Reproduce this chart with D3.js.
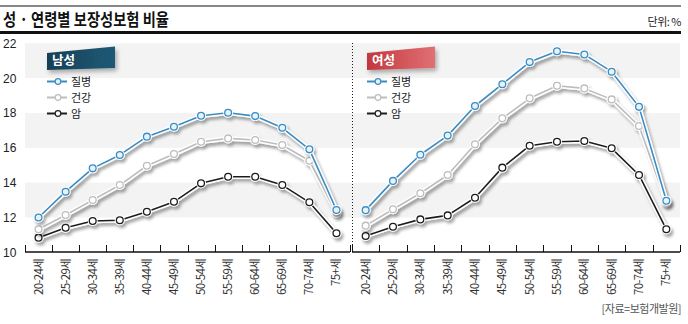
<!DOCTYPE html>
<html><head><meta charset="utf-8">
<script src="https://cdn.jsdelivr.net/npm/d3@7"></script>
<style>
body{margin:0;background:#fff;}
svg{display:block;font-family:"Noto Sans CJK KR","Noto Sans",sans-serif;}
</style></head><body>
<svg id="c" width="688" height="324"></svg>
<script>
const categories = ["20-24세","25-29세","30-34세","35-39세","40-44세","45-49세","50-54세","55-59세","60-64세","65-69세","70-74세","75+세"];
const yTicks = [10,12,14,16,18,20,22];
const seriesNames = ["질병","건강","암"];
const maleDisease = [12.0,13.48,14.82,15.59,16.64,17.21,17.84,18.01,17.82,17.15,15.91,12.43];
const maleHealth  = [11.32,12.14,13.0,13.86,14.97,15.64,16.35,16.54,16.45,16.16,15.26,12.27];
const maleCancer  = [10.84,11.41,11.8,11.84,12.33,12.9,13.96,14.34,14.34,13.86,12.87,11.09];
const femaleDisease = [12.42,14.1,15.6,16.7,18.4,19.65,20.92,21.54,21.36,20.37,18.35,12.96];
const femaleHealth  = [11.53,12.47,13.39,14.44,16.2,17.69,18.84,19.56,19.41,18.78,17.25,12.87];
const femaleCancer  = [10.94,11.47,11.89,12.12,13.13,14.86,16.12,16.35,16.39,15.97,14.44,11.32];

const svg = d3.select("#c");
const defs = svg.append("defs");
const f = defs.append("filter").attr("id","sh").attr("x","-20%").attr("y","-20%").attr("width","140%").attr("height","140%");
f.append("feDropShadow").attr("dx",2).attr("dy",3).attr("stdDeviation",1.6).attr("flood-color","#000").attr("flood-opacity",0.35);
const f2 = defs.append("filter").attr("id","bsh").attr("x","-20%").attr("y","-30%").attr("width","150%").attr("height","170%");
f2.append("feDropShadow").attr("dx",2).attr("dy",3).attr("stdDeviation",2).attr("flood-color","#000").attr("flood-opacity",0.3);
const gBlue = defs.append("linearGradient").attr("id","gb").attr("x1",0).attr("x2",1);
gBlue.append("stop").attr("offset",0).attr("stop-color","#163f56");
gBlue.append("stop").attr("offset",1).attr("stop-color","#1f5a76");
const gRed = defs.append("linearGradient").attr("id","gr").attr("x1",0).attr("x2",1);
gRed.append("stop").attr("offset",0).attr("stop-color","#c2383e");
gRed.append("stop").attr("offset",1).attr("stop-color","#e07073");

// header
svg.append("line").attr("x1",0).attr("x2",681).attr("y1",6).attr("y2",6).attr("stroke","#111").attr("stroke-width",1);
svg.append("text").attr("x",3).attr("y",26).attr("font-size",17.5).attr("font-weight",700).attr("fill","#111")
  .attr("textLength",166).attr("lengthAdjust","spacingAndGlyphs").text("성 · 연령별 보장성보험 비율");
svg.append("text").attr("x",681).attr("y",26).attr("text-anchor","end").attr("font-size",11).attr("fill","#222").attr("letter-spacing",-0.5).text("단위: %");
svg.append("rect").attr("x",0).attr("y",31).attr("width",681).attr("height",3).attr("fill","#111");

const y = d3.scaleLinear().domain([10,22]).range([252.3,43.3]);
const plotL = 25, plotR = 680;

// bands
const bandPairs = [[20,22],[16,18],[12,14]];
svg.append("g").selectAll("rect").data(bandPairs).join("rect")
  .attr("x",plotL).attr("width",plotR-plotL)
  .attr("y",d=>y(d[1])).attr("height",d=>y(d[0])-y(d[1])).attr("fill","#f3f3f3");

// y labels
svg.append("g").selectAll("text").data(yTicks).join("text")
  .attr("x",3).attr("y",d=>y(d)+4.5).attr("font-size",12).attr("fill","#222")
  .attr("font-family","'Liberation Sans',Arial,sans-serif").text(d=>d);

// divider
svg.append("line").attr("x1",352.5).attr("x2",352.5).attr("y1",43).attr("y2",252)
  .attr("stroke","#222").attr("stroke-width",1).attr("stroke-dasharray","1,2");

const colors = {"질병":"#3a8cc2","건강":"#bdbdbd","암":"#1e1e1e"};
const markerFill = {"질병":"#e6f3fb","건강":"#ffffff","암":"#ffffff"};

const panels = [
  {name:"남성", range:[25,350], data:[maleDisease,maleHealth,maleCancer], badge:"url(#gb)"},
  {name:"여성", range:[352,680], data:[femaleDisease,femaleHealth,femaleCancer], badge:"url(#gr)"}
];

panels.forEach(p=>{
  const x = d3.scaleBand().domain(categories).range(p.range).padding(0);
  const g = svg.append("g");
  // axis
  g.append("line").attr("x1",p.range[0]).attr("x2",p.range[1]).attr("y1",252).attr("y2",252).attr("stroke","#111").attr("stroke-width",1.3);
  const bounds = categories.map(c=>x(c)).concat([x(categories[categories.length-1])+x.bandwidth()]);
  g.selectAll(".tk").data(bounds).join("line").attr("class","tk")
    .attr("x1",d=>Math.round(d)+0.5).attr("x2",d=>Math.round(d)+0.5).attr("y1",245).attr("y2",252).attr("stroke","#111").attr("stroke-width",1);
  g.selectAll(".xl").data(categories).join("text").attr("class","xl")
    .attr("transform",d=>`translate(${x(d)+x.bandwidth()/2+4},259) rotate(-90)`)
    .attr("text-anchor","end").attr("font-size",11.5).attr("fill","#333").attr("letter-spacing",-0.7).text(d=>d);

  const order = [2,1,0];
  order.forEach(i=>{
    const name = seriesNames[i];
    const vals = p.data[i];
    const pts = vals.map((v,j)=>[x(categories[j])+x.bandwidth()/2, y(v)]);
    const sg = g.append("g").attr("filter","url(#sh)");
    const line = d3.line();
    sg.append("path").attr("d",line(pts)).attr("fill","none").attr("stroke","#fff").attr("stroke-width",4.5).attr("stroke-linejoin","round");
    sg.append("path").attr("d",line(pts)).attr("fill","none").attr("stroke",colors[name]).attr("stroke-width",1.6).attr("stroke-linejoin","round");
    sg.selectAll("circle.o").data(pts).join("circle").attr("class","o").attr("cx",d=>d[0]).attr("cy",d=>d[1]).attr("r",5).attr("fill","#fff");
    sg.selectAll("circle.m").data(pts).join("circle").attr("class","m").attr("cx",d=>d[0]).attr("cy",d=>d[1]).attr("r",3.4)
      .attr("fill",markerFill[name]).attr("stroke",colors[name]).attr("stroke-width",1.3);
  });

  // badge
  const bx = p.range[0] + (p.name==="남성"?22:15);
  g.append("path").attr("d",`M${bx},53 L${bx+68},46.5 L${bx+68},68 L${bx},70 Z`).attr("fill",p.badge).attr("filter","url(#bsh)");
  g.append("text").attr("x",bx+5).attr("y",65).attr("font-size",12.5).attr("font-weight",700).attr("fill","#fff").text(p.name);
  // legend
  seriesNames.forEach((n,i)=>{
    const ly = [81.5,97.5,113.5][i];
    g.append("line").attr("x1",bx).attr("x2",bx+20).attr("y1",ly).attr("y2",ly).attr("stroke",colors[n]).attr("stroke-width",2);
    g.append("circle").attr("cx",bx+11).attr("cy",ly).attr("r",2.8).attr("fill",markerFill[n]).attr("stroke",colors[n]).attr("stroke-width",1.2);
    g.append("text").attr("x",bx+24).attr("y",ly+4).attr("font-size",11).attr("fill","#222").text(n);
  });
});

svg.append("text").attr("x",681).attr("y",313).attr("text-anchor","end").attr("font-size",11).attr("fill","#555").attr("letter-spacing",-0.5).text("[자료=보험개발원]");
</script></body></html>
